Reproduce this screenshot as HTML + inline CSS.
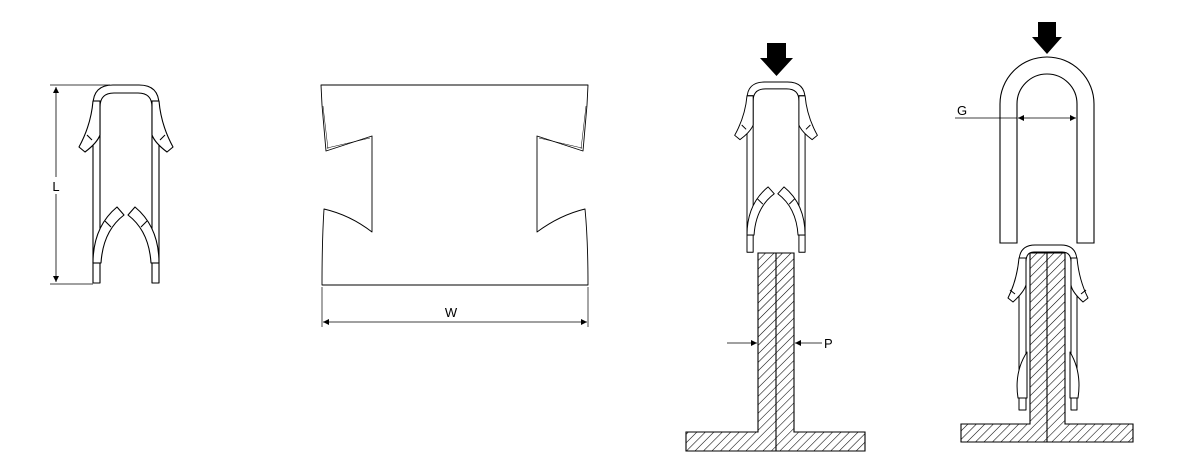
<!DOCTYPE html>
<html><head><meta charset="utf-8"><style>
html,body{margin:0;padding:0;background:#fff;}
svg{display:block;}
text{font-family:"Liberation Sans",sans-serif;fill:#000;}
</style></head><body>
<svg width="1181" height="473" viewBox="0 0 1181 473" xmlns="http://www.w3.org/2000/svg">
<defs>
<pattern id="h" patternUnits="userSpaceOnUse" width="6" height="6" patternTransform="rotate(45)">
<rect width="6" height="6" fill="#fff"/>
<line x1="0" y1="0" x2="0" y2="6" stroke="#000" stroke-width="1.1"/>
</pattern>
<marker id="a" viewBox="0 0 10 10" refX="10" refY="5" markerWidth="8" markerHeight="6" orient="auto-start-reverse" markerUnits="userSpaceOnUse">
<path d="M0,0 L10,5 L0,10 Z" fill="#000"/>
</marker>
<g id="clip" fill="#fff" stroke="#000" stroke-width="1.1" stroke-linejoin="round">
<path d="M0,198 V20 Q0,0 20,0 H46 Q66,0 66,20 V198 H59 V22 Q59,8 45,8 H21 Q7,8 7,22 V198 Z"/>
<path d="M0,16 Q-2,40 -14,62 L-8,67 Q4,58 7,50 V16 Z"/>
<line x1="-6" y1="50" x2="-1" y2="55"/>
<line x1="0" y1="16" x2="7" y2="16"/>
<path d="M66,16 Q68,40 80,62 L74,67 Q62,58 59,50 V16 Z"/>
<line x1="72" y1="50" x2="67" y2="55"/>
<line x1="59" y1="16" x2="66" y2="16"/>
<path d="M0,178 Q0,142 24,122 L31,130 Q10,146 8,178 Z"/>
<line x1="12" y1="136" x2="18" y2="142"/>
<line x1="0" y1="178" x2="8" y2="178"/>
<path d="M66,178 Q66,142 42,122 L35,130 Q56,146 58,178 Z"/>
<line x1="54" y1="136" x2="48" y2="142"/>
<line x1="58" y1="178" x2="66" y2="178"/>
</g>
</defs>

<use href="#clip" transform="translate(93,85)"/>
<g stroke="#000" stroke-width="0.8" fill="none">
<line x1="50" y1="85" x2="110" y2="85"/>
<line x1="50" y1="284" x2="93" y2="284"/>
<line x1="56" y1="87" x2="56" y2="282" marker-start="url(#a)" marker-end="url(#a)"/>
</g>
<rect x="50" y="177" width="12" height="17" fill="#fff"/>
<text x="56" y="191" font-size="13" text-anchor="middle">L</text>

<g stroke="#000" stroke-width="0.9" fill="none" stroke-linejoin="round">
<path d="M321,85 H588 L587,105 L583,151 L537,136 V232 Q560,215 585,209 Q588,240 588,285 H322 Q322,240 324,209 Q350,215 372,232 V136 L326,151 L322,105 Z"/>
<path d="M323,106 L328,149 M327,148 L370,138 M586,106 L581,149 M582,148 L539,138" stroke-width="0.5"/>
<line x1="322" y1="287" x2="322" y2="327" stroke-width="0.7"/>
<line x1="588" y1="287" x2="588" y2="327" stroke-width="0.7"/>
<line x1="323" y1="322" x2="587" y2="322" stroke-width="0.8" marker-start="url(#a)" marker-end="url(#a)"/>
</g>
<text x="451" y="317" font-size="13" text-anchor="middle">W</text>

<path d="M767,43 H786 V58 H793 L776.5,76 L760,58 H767 Z" fill="#000"/>
<use href="#clip" transform="translate(747,82) scale(0.88,0.86)"/>
<path d="M758,253 H794 V432 H865 V451 H686 V432 H758 Z" fill="url(#h)" stroke="#000" stroke-width="1.1"/>
<line x1="776" y1="253" x2="776" y2="451" stroke="#000" stroke-width="1.1"/>
<g stroke="#000" stroke-width="0.8">
<line x1="727" y1="343" x2="757" y2="343" marker-end="url(#a)"/>
<line x1="822" y1="343" x2="795" y2="343" marker-end="url(#a)"/>
</g>
<text x="824" y="348" font-size="13">P</text>

<path d="M1038,22 H1056 V37 H1062 L1047,54 L1032,37 H1038 Z" fill="#000"/>
<path d="M1000,243 V104 A47,47 0 0 1 1094,104 V243 H1077 V104 A30,30 0 0 0 1017,104 V243 Z" fill="#fff" stroke="#000" stroke-width="1.1"/>
<g stroke="#000" stroke-width="0.8">
<line x1="955" y1="118" x2="1017" y2="118"/>
<line x1="1030" y1="118" x2="1018" y2="118" marker-end="url(#a)"/>
<line x1="1030" y1="118" x2="1076" y2="118" marker-end="url(#a)"/>
</g>
<text x="957" y="115" font-size="13">G</text>
<path d="M1030,253 H1065 V424 H1133 V442 H961 V424 H1030 Z" fill="url(#h)" stroke="#000" stroke-width="1.1"/>
<line x1="1047" y1="253" x2="1047" y2="442" stroke="#000" stroke-width="1.1"/>
<g fill="#fff" stroke="#000" stroke-width="1" stroke-linejoin="round">
<path d="M1019,410 V262 Q1019,245 1035,245 H1061 Q1077,245 1077,262 V410 H1071 V262 Q1071,252 1062,252 H1034 Q1026,252 1026,262 V410 Z"/>
<path d="M1019,258 Q1017,280 1008,298 L1013,302 Q1024,292 1026,285 V258 Z"/>
<path d="M1077,258 Q1079,280 1088,298 L1083,302 Q1072,292 1071,285 V258 Z"/>
<line x1="1010" y1="290" x2="1015" y2="294"/>
<line x1="1086" y1="290" x2="1081" y2="294"/>
<path d="M1018,398 Q1014,372 1027,352 V398 Z"/>
<path d="M1078,398 Q1082,372 1070,352 V398 Z"/>
<line x1="1018" y1="398" x2="1026" y2="398"/>
<line x1="1071" y1="398" x2="1078" y2="398"/>
</g>
</svg>
</body></html>
